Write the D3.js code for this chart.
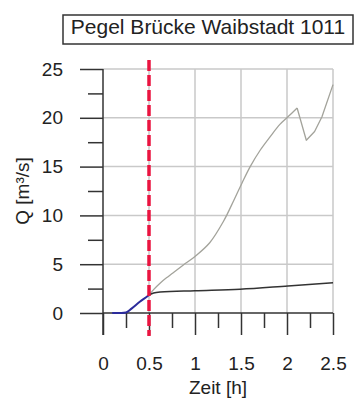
<!DOCTYPE html>
<html>
<head>
<meta charset="utf-8">
<title>Pegel Brücke Waibstadt 1011</title>
<script src="https://d3js.org/d3.v7.min.js"></script>
<style>
  body { margin: 0; background: #fff; }
  text { font-family: "Liberation Sans", Arial, sans-serif; fill: #222; }
</style>
</head>
<body>
<script>
// data
var timeBlue = [0.1, 0.2, 0.25, 0.31, 0.4, 0.49, 0.5];
var qBlue = [0, 0, 0.05, 0.45, 1.15, 1.77, 1.85];

var timeGray = [0.5, 0.55, 0.62, 0.69, 0.76, 0.87, 1.0, 1.16, 1.31, 1.42, 1.51, 1.6, 1.71, 1.82, 1.92, 2.01, 2.11, 2.21, 2.3, 2.38, 2.5];
var qGray = [1.85, 2.4, 3.05, 3.6, 4.1, 4.9, 5.8, 7.2, 9.4, 11.5, 13.3, 15.0, 16.7, 18.1, 19.3, 20.1, 21.0, 17.7, 18.6, 20.1, 23.4];

var timeBlack = [0.5, 0.55, 0.62, 1.0, 1.49, 2.01, 2.5];
var qBlack = [1.85, 2.05, 2.15, 2.28, 2.43, 2.77, 3.1];

var xTicks = [0, 0.5, 1, 1.5, 2, 2.5];
var xMinor = [0.25, 0.75, 1.25, 1.75, 2.25];
var yTicks = [0, 5, 10, 15, 20, 25];
var yMinor = [2.5, 7.5, 12.5, 17.5, 22.5];
var markerTime = 0.5;
var title = "Pegel Brücke Waibstadt 1011";

var width = 356, height = 403;
var margin = { top: 69, right: 23, bottom: 90, left: 103 };

var svg = d3.select("body").append("svg")
    .attr("width", width)
    .attr("height", height);

var x = d3.scaleLinear().domain([0, 2.5]).range([margin.left, width - margin.right]);
var y = d3.scaleLinear().domain([0, 25]).range([height - margin.bottom, margin.top]);

function zip(a, b) { return a.map(function(d, i) { return [d, b[i]]; }); }

// grid
svg.append("g")
    .selectAll("line")
    .data(yTicks.slice(1))
    .enter().append("line")
    .attr("x1", x(0)).attr("x2", x(2.5))
    .attr("y1", function(d) { return y(d); })
    .attr("y2", function(d) { return y(d); })
    .attr("stroke", "#c9c9c9").attr("stroke-width", 1.5);

svg.append("g")
    .selectAll("line")
    .data(xTicks.slice(1))
    .enter().append("line")
    .attr("x1", function(d) { return x(d); })
    .attr("x2", function(d) { return x(d); })
    .attr("y1", y(0)).attr("y2", y(25))
    .attr("stroke", "#c9c9c9").attr("stroke-width", 1.5);

// y axis
var yAxis = svg.append("g")
    .attr("transform", "translate(" + x(0) + ",0)")
    .call(d3.axisLeft(y).tickValues(yTicks).tickSize(23).tickPadding(17).tickFormat(d3.format("d")));
yAxis.select(".domain").remove();
yAxis.selectAll(".tick line").attr("stroke", "#333").attr("stroke-width", 1.5);
yAxis.selectAll(".tick text").style("font-size", "19px").style("fill", "#222");

svg.append("g")
    .attr("transform", "translate(" + x(0) + ",0)")
    .call(d3.axisLeft(y).tickValues(yMinor).tickSize(15).tickFormat(""))
    .call(function(g) { g.select(".domain").remove(); })
    .selectAll(".tick line").attr("stroke", "#333").attr("stroke-width", 1.5);

// x axis (ticks point down from the zero line)
var xAxis = svg.append("g")
    .attr("transform", "translate(0," + y(0) + ")")
    .call(d3.axisBottom(x).tickValues(xTicks).tickSize(22).tickPadding(22).tickFormat(function(d) { return String(d); }));
xAxis.select(".domain").remove();
xAxis.selectAll(".tick line").attr("stroke", "#333").attr("stroke-width", 1.5);
xAxis.selectAll(".tick text").style("font-size", "19px").style("fill", "#222");

svg.append("g")
    .attr("transform", "translate(0," + y(0) + ")")
    .call(d3.axisBottom(x).tickValues(xMinor).tickSize(15).tickFormat(""))
    .call(function(g) { g.select(".domain").remove(); })
    .selectAll(".tick line").attr("stroke", "#333").attr("stroke-width", 1.5);

// axis lines
svg.append("line")
    .attr("x1", x(0)).attr("x2", x(0))
    .attr("y1", y(25)).attr("y2", y(0) + 22)
    .attr("stroke", "#333").attr("stroke-width", 1.5);
svg.append("line")
    .attr("x1", x(0)).attr("x2", x(2.5))
    .attr("y1", y(0)).attr("y2", y(0))
    .attr("stroke", "#333").attr("stroke-width", 1.5);

// series
var line = d3.line()
    .x(function(d) { return x(d[0]); })
    .y(function(d) { return y(d[1]); });

// gray: smooth rise up to the peak, then sharp drop and rise again
var grayPts = zip(timeGray, qGray);
var peak = d3.maxIndex(qGray.slice(0, -1));

svg.append("path")
    .datum(grayPts.slice(0, peak + 1))
    .attr("d", line.curve(d3.curveCatmullRom.alpha(0.5)))
    .attr("fill", "none").attr("stroke", "#a3a39b").attr("stroke-width", 1.3);

svg.append("path")
    .datum(grayPts.slice(peak))
    .attr("d", line.curve(d3.curveLinear))
    .attr("fill", "none").attr("stroke", "#a3a39b").attr("stroke-width", 1.3)
    .attr("stroke-linejoin", "round");

svg.append("path")
    .datum(zip(timeBlack, qBlack))
    .attr("d", line.curve(d3.curveMonotoneX))
    .attr("fill", "none").attr("stroke", "#333").attr("stroke-width", 1.6);

svg.append("path")
    .datum(zip(timeBlue, qBlue))
    .attr("d", line.curve(d3.curveMonotoneX))
    .attr("fill", "none").attr("stroke", "#2c2c9c").attr("stroke-width", 2);

// marker
svg.append("line")
    .attr("x1", x(markerTime)).attr("x2", x(markerTime))
    .attr("y1", y(25) - 9).attr("y2", y(0) + 23)
    .attr("stroke", "#ea1440").attr("stroke-width", 3.5)
    .attr("stroke-dasharray", "11,4");

// axis titles
svg.append("text")
    .attr("transform", "translate(29," + ((y(0) + y(25)) / 2) + ") rotate(-90)")
    .attr("text-anchor", "middle")
    .style("font-size", "19px").style("fill", "#222")
    .text("Q [m³/s]");

svg.append("text")
    .attr("x", (x(0) + x(2.5)) / 2)
    .attr("y", 394)
    .attr("text-anchor", "middle")
    .style("font-size", "19px").style("fill", "#222")
    .text("Zeit [h]");

// title box
svg.append("rect")
    .attr("x", 63).attr("y", 15)
    .attr("width", 290).attr("height", 29)
    .attr("fill", "#fff").attr("stroke", "#333").attr("stroke-width", 1.5);
svg.append("text")
    .attr("x", 208).attr("y", 34)
    .attr("text-anchor", "middle")
    .style("font-size", "21px").style("fill", "#222")
    .text(title);
</script>
</body>
</html>
